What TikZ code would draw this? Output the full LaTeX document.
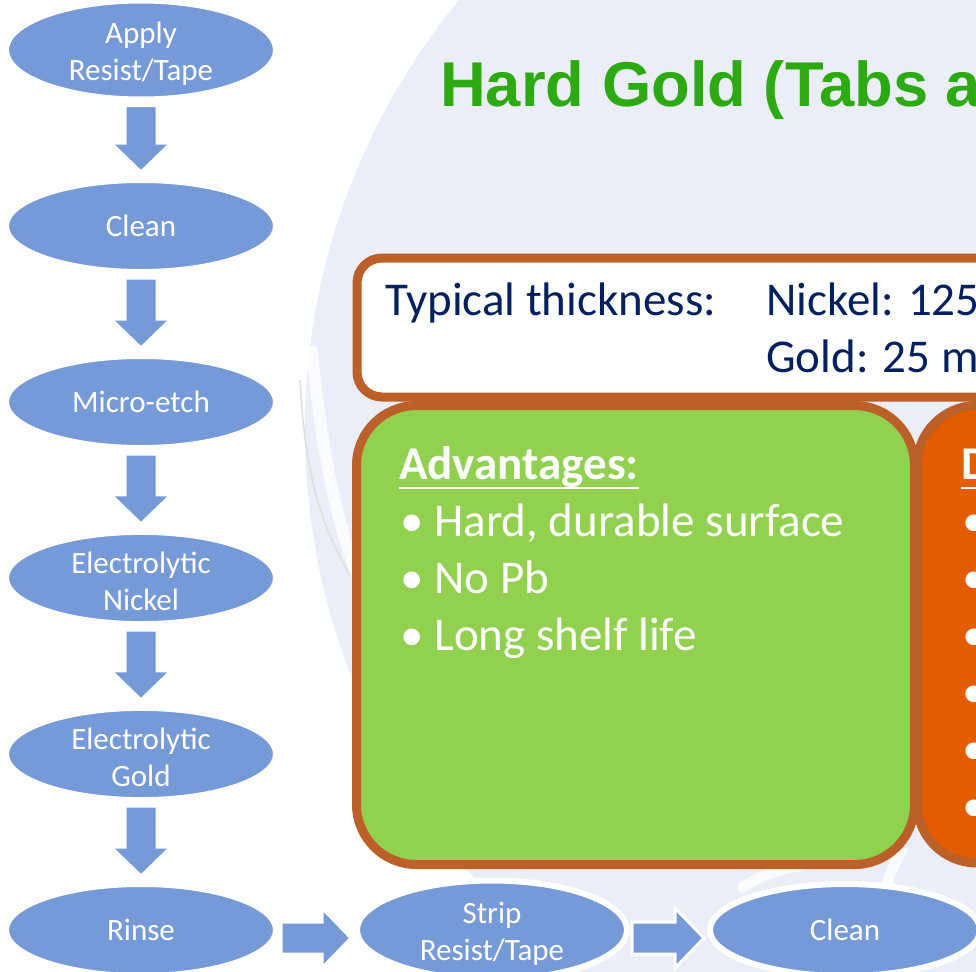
\documentclass[tikz,border=0pt]{standalone}
\usepackage{fontspec}
\setmainfont{Carlito}
\newfontfamily\titlefont{Liberation Sans}
\usetikzlibrary{shapes.geometric,calc}

\definecolor{flowblue}{HTML}{769AD7}
\definecolor{globeblue}{HTML}{EBEEF7}
\definecolor{frame}{HTML}{BB6028}
\definecolor{advgreen}{HTML}{92D050}
\definecolor{disorange}{HTML}{E35C00}
\definecolor{titlegreen}{HTML}{2DAA12}
\definecolor{navy}{HTML}{002060}

% invisible strut that lowers two-line step labels a little
\newcommand\toplift{\rule{0pt}{21pt}}

% vertical block arrow between two process steps
\newcommand\varrow[2]{%
  \filldraw[blockarrow] let \p1=($(#1.south)+(0,3)$), \p2=($(#2.north)+(0,-5)$) in
    (\x1-12pt,\y1) -- (\x1+12pt,\y1) -- (\x1+12pt,\y2+21.75pt) -- (\x1+22.5pt,\y2+21.75pt)
    -- (\x1,\y2) -- (\x1-22.5pt,\y2+21.75pt) -- (\x1-12pt,\y2+21.75pt) -- cycle;}
% horizontal block arrow between two process steps
\newcommand\harrow[2]{%
  \filldraw[blockarrow] let \p1=($(#1.east)+(2,8)$), \p2=($(#2.west)+(-3,8)$) in
    (\x1,\y1+12pt) -- (\x2-21.75pt,\y1+12pt) -- (\x2-21.75pt,\y1+22.5pt) -- (\x2,\y1)
    -- (\x2-21.75pt,\y1-22.5pt) -- (\x2-21.75pt,\y1-12pt) -- (\x1,\y1-12pt) -- cycle;}

\begin{document}
\begin{tikzpicture}[x=0.75pt,y=-0.75pt,
  stepnode/.style={ellipse, fill=flowblue, draw=white, line width=4.5pt,
    minimum width=202.5pt, minimum height=69pt, inner sep=0pt, text=white,
    align=center, font=\fontsize{23.25}{27.75}\selectfont},
  blockarrow/.style={fill=flowblue, draw=white, line width=2.25pt, line join=miter},
  panel/.style={draw=frame, line width=6.75pt},
  bodytext/.style={anchor=base west, inner sep=0pt, font=\fontsize{35.25}{42.75}\selectfont},
  swirl/.style={white, line cap=round},
]
\useasboundingbox (0,0) rectangle (976,972);
\clip (0,0) rectangle (976,972);
\fill[white] (0,0) rectangle (976,972);

% globe in the background
\fill[globeblue] (982,430) circle (677);
\draw[swirl, line width=9pt, opacity=0.8] (312,352) .. controls (322,450) and (335,530) .. (372,610);
\draw[gray!25, line width=1.2pt] (300,380) .. controls (305,470) and (318,520) .. (350,575);
\draw[swirl, line width=8pt, opacity=0.8] (742,888) .. controls (760,876) and (775,870) .. (800,866);
\draw[swirl, line width=8pt, opacity=0.8] (884,892) .. controls (890,875) and (895,862) .. (902,850);

% thickness panel
\draw[panel, fill=white, rounded corners=18.75pt] (357,258) rectangle (1040,397);
\node[bodytext, text=navy] (thk) at (385,315) {Typical thickness:};
\node[bodytext, text=navy] (ni) at (766,315) {Nickel: 125};
\node[bodytext, text=navy] (au) at (766,372) {Gold: 25 m};

% advantages panel
\draw[panel, fill=advgreen, rounded corners=45pt] (356.5,405.5) rectangle (914.5,864.5);
\node[bodytext, text=white, font=\bfseries\fontsize{35.25}{42.75}\selectfont] (advhead) at (399,479) {Advantages:};
\draw[white, line width=2.2pt] ([yshift=-6.75pt]advhead.base west) -- ([yshift=-6.75pt]advhead.base east);
\node[bodytext, text=white] (adv1) at (400,536) {• Hard, durable surface};
\node[bodytext, text=white] (adv2) at (400,593) {• No Pb};
\node[bodytext, text=white] (adv3) at (400,650) {• Long shelf life};

% disadvantages panel
\draw[panel, fill=disorange, rounded corners=45pt] (917,405.5) rectangle (1060,863);
\node[bodytext, text=white, font=\bfseries\fontsize{35.25}{42.75}\selectfont] (dishead) at (961,479) {D};
\draw[white, line width=2.2pt] ([yshift=-6.75pt]dishead.base west) -- ([xshift=20pt,yshift=-6.75pt]dishead.base east);
\foreach \yy/\nm in {536/d1,593/d2,650/d3,707/d4,764/d5,821/d6}
  \node[bodytext, text=white] (\nm) at (962,\yy) {•};

% title
\node[anchor=base west, inner sep=0pt, text=titlegreen,
  font=\titlefont\bfseries\fontsize{47.5}{56}\selectfont] (title) at (440,106) {Hard Gold (Tabs a};

% process flow
\node[stepnode] (apply)  at (141,50)  {\toplift Apply\\Resist/Tape};
\node[stepnode] (clean)  at (141,226) {Clean};
\node[stepnode] (etch)   at (141,402) {Micro-etch};
\node[stepnode] (nickel) at (141,578) {\toplift Electrolytic\\Nickel};
\node[stepnode] (gold)   at (141,754) {\toplift Electrolytic\\Gold};
\node[stepnode] (rinse)  at (141,930) {Rinse};
\node[stepnode] (strip)  at (492,930) {\toplift Strip\\Resist/Tape};
\node[stepnode] (final)  at (845,930) {Clean};

\varrow{apply}{clean}
\varrow{clean}{etch}
\varrow{etch}{nickel}
\varrow{nickel}{gold}
\varrow{gold}{rinse}
\harrow{rinse}{strip}
\harrow{strip}{final}
\end{tikzpicture}
\end{document}
